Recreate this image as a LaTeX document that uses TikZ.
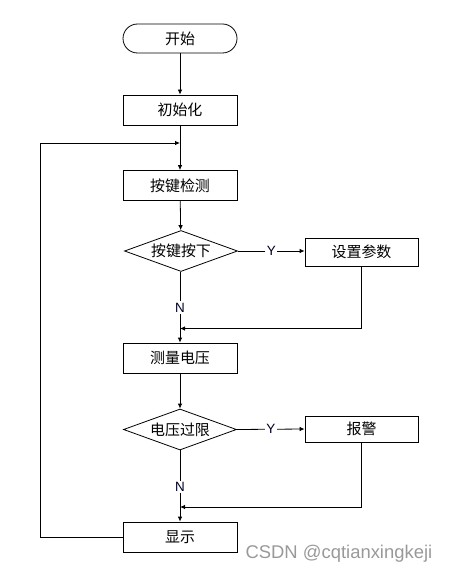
\documentclass[tikz,border=0pt]{standalone}
\usepackage{fontspec}
\setmainfont{Liberation Sans}
\newfontfamily\cjk{Noto Sans CJK SC}
\usetikzlibrary{shapes.geometric,arrows.meta}
\begin{document}
\begin{tikzpicture}[x=1bp,y=-1bp,
  line width=0.8bp,
  box/.style={draw, minimum width=114bp, minimum height=30bp, inner sep=0pt, font=\cjk\fontsize{15}{17}\selectfont},
  term/.style={box, rounded corners=14.5bp, minimum height=29bp},
  dec/.style={draw, diamond, aspect=2.8, inner sep=0pt, minimum width=113bp, minimum height=41bp, font=\cjk\fontsize{15}{17}\selectfont},
  lbl/.style={fill=white, inner sep=1.5bp, text=black!85!blue, font=\fontsize{13.5}{15}\selectfont},
  arr/.style={-{Latex[length=5bp,width=4.5bp]}},
]
\useasboundingbox (0,0) rectangle (449,573);
\node[term] (start) at (180,38.5) {开始};
\node[box] (init) at (180,110) {初始化};
\node[box] (scan) at (180,185.5) {按键检测};
\node[dec] (key) at (181,251) {按键按下};
\node[box, minimum width=113bp, minimum height=28bp] (set) at (361.5,252) {设置参数};
\node[box] (meas) at (180,358) {测量电压};
\node[dec] (over) at (180,429.5) {电压过限};
\node[box, minimum width=113bp, minimum height=26bp] (alarm) at (361.5,429) {报警};
\node[box] (disp) at (180,537) {显示};
\coordinate (j1) at (180,143);
\coordinate (j2) at (180,328.5);
\coordinate (j3) at (180,507);
\coordinate (L) at (40,143);
\node[anchor=base east, text=black!40, font=\fontsize{18.5}{20}\selectfont] (wm) at (436,558) {CSDN @cqtianxingkeji};

\draw[arr] (start) -- (init);
\draw[arr] (init) -- (scan);
\draw[arr] (disp.west) -| (L) -- (j1);
\draw[arr] (scan) -- (key);
\draw[arr] (key.east) -- node[lbl]{Y} (key.east -| set.west);
\draw (key.south -| j2) -- node[lbl, pos=0.63]{N} (j2);
\draw[arr] (set.south) |- (j2);
\draw[arr] (j2) -- (meas);
\draw[arr] (meas) -- (over);
\draw[arr] (over.east) -- node[lbl]{Y} (alarm.west);
\draw (over.south) -- node[lbl, pos=0.64]{N} (j3);
\draw[arr] (alarm.south) |- (j3);
\draw[arr] (j3) -- (disp);
\end{tikzpicture}
\end{document}
